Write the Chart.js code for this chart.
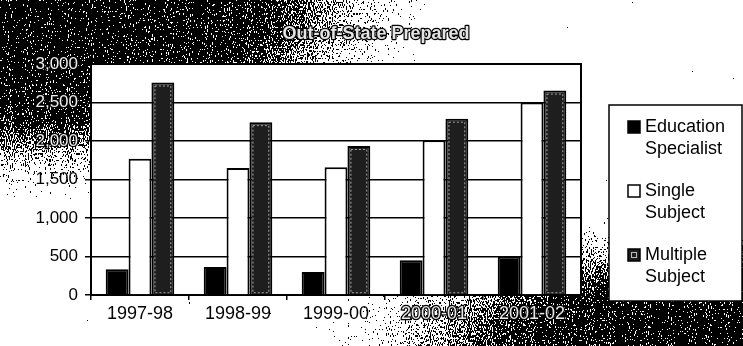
<!DOCTYPE html>
<html>
<head>
<meta charset="utf-8">
<script src="https://cdn.jsdelivr.net/npm/chart.js@4/dist/chart.umd.min.js"></script>
<style>
  html, body { margin: 0; padding: 0; background: #fff; }
  body { width: 743px; height: 346px; overflow: hidden; }
  #wrap { position: relative; width: 743px; height: 346px; }
  /* Shaded backdrop, dithered through the grain filter below */
  #backdrop {
    position: absolute; left: 0; top: 0; width: 743px; height: 346px;
    background-color: #fff;
    background-image:
      radial-gradient(ellipse 480px 220px at 0 0, rgba(0,0,0,0.7) 0%, rgba(0,0,0,0.64) 55%, rgba(0,0,0,0.3) 80%, rgba(0,0,0,0) 100%),
      radial-gradient(ellipse 470px 150px at 100% 100%, rgba(0,0,0,0.7) 0%, rgba(0,0,0,0.62) 50%, rgba(0,0,0,0.28) 80%, rgba(0,0,0,0) 100%);
    filter: url(#grain);
  }
  #chart { position: absolute; left: 0; top: 0; }
</style>
</head>
<body>
<svg width="0" height="0" style="position:absolute">
  <filter id="grain" x="0" y="0" width="100%" height="100%" color-interpolation-filters="sRGB">
    <feTurbulence type="fractalNoise" baseFrequency="0.95 0.45" numOctaves="1" seed="7" result="noise"/>
    <feColorMatrix in="noise" type="matrix" result="grey"
      values="0.33 0.33 0.33 0 0  0.33 0.33 0.33 0 0  0.33 0.33 0.33 0 0  0 0 0 0 1"/>
    <feComposite in="SourceGraphic" in2="grey" operator="arithmetic" k1="0" k2="1" k3="2.2" k4="-1.1" result="mix"/>
    <feComponentTransfer in="mix">
      <feFuncR type="discrete" tableValues="0 1"/>
      <feFuncG type="discrete" tableValues="0 1"/>
      <feFuncB type="discrete" tableValues="0 1"/>
      <feFuncA type="linear" slope="0" intercept="1"/>
    </feComponentTransfer>
  </filter>
</svg>
<div id="wrap">
  <div id="backdrop"></div>
  <canvas id="chart" width="743" height="346"></canvas>
</div>
<script>
// School years on the category axis
const categories = ['1997-98', '1998-99', '1999-00', '2000-01', '2001-02'];

// Credentials issued to out-of-state prepared teachers, by type
const educationSpecialist = [335, 365, 300, 450, 500];
const singleSubject       = [1770, 1650, 1660, 2010, 2500];
const multipleSubject     = [2760, 2245, 1935, 2290, 2655];

// Value axis ticks
const yTickValues = [0, 500, 1000, 1500, 2000, 2500, 3000];

const seriesNames = [['Education', 'Specialist'], ['Single', 'Subject'], ['Multiple', 'Subject']];
const titleText = 'Out-of-State Prepared';

const FONT = '"Liberation Sans", Arial, sans-serif';

// White plot background plus top/right frame
const plotFrame = {
  id: 'plotFrame',
  beforeDraw(chart) {
    const { ctx, chartArea: a } = chart;
    ctx.save();
    ctx.fillStyle = '#fff';
    ctx.fillRect(a.left, a.top, a.right - a.left, a.bottom - a.top);
    ctx.restore();
  },
  afterDraw(chart) {
    const { ctx, chartArea: a } = chart;
    ctx.save();
    ctx.strokeStyle = '#000';
    ctx.lineWidth = 2;
    ctx.beginPath();
    ctx.moveTo(a.left, a.top);
    ctx.lineTo(a.right, a.top);
    ctx.lineTo(a.right, a.bottom);
    ctx.stroke();
    ctx.restore();
  }
};

// Speckled inner edge on the dark Multiple Subject bars
const innerEdge = {
  id: 'innerEdge',
  afterDatasetsDraw(chart) {
    const meta = chart.getDatasetMeta(2);
    const ctx = chart.ctx;
    ctx.save();
    ctx.strokeStyle = '#a8a8a8';
    ctx.lineWidth = 1;
    ctx.setLineDash([2, 2]);
    meta.data.forEach(bar => {
      const l = bar.x - bar.width / 2 + 3.5;
      const r = bar.x + bar.width / 2 - 3.5;
      ctx.strokeRect(l, bar.y + 3.5, r - l, bar.base - bar.y - 5);
    });
    ctx.restore();
  }
};

// Title with outlined lettering
const outlinedTitle = {
  id: 'outlinedTitle',
  afterDraw(chart) {
    const ctx = chart.ctx;
    ctx.save();
    ctx.font = 'bold 18px ' + FONT;
    ctx.textAlign = 'center';
    ctx.textBaseline = 'middle';
    ctx.lineJoin = 'round';
    ctx.strokeStyle = '#000';
    ctx.lineWidth = 2.5;
    ctx.strokeText(titleText, 376, 34);
    ctx.fillStyle = '#e4e4e4';
    ctx.fillText(titleText, 376, 34);
    ctx.restore();
  }
};

// Boxed legend with two-line labels
const boxLegend = {
  id: 'boxLegend',
  afterDraw(chart) {
    const ctx = chart.ctx;
    const box = { l: 609, t: 105, r: 742, b: 301 };
    ctx.save();
    ctx.fillStyle = '#fff';
    ctx.fillRect(box.l, box.t, box.r - box.l, box.b - box.t);
    ctx.strokeStyle = '#000';
    ctx.lineWidth = 1.5;
    ctx.strokeRect(box.l, box.t, box.r - box.l, box.b - box.t);
    ctx.font = '18px ' + FONT;
    ctx.textBaseline = 'middle';
    ctx.textAlign = 'left';
    chart.data.datasets.forEach((ds, i) => {
      const y0 = 127 + i * 64;
      const mx = 628, my = y0 - 6, ms = 12;
      ctx.fillStyle = ds.backgroundColor;
      ctx.fillRect(mx, my, ms, ms);
      ctx.strokeStyle = '#000';
      ctx.lineWidth = 1.5;
      ctx.setLineDash([]);
      ctx.strokeRect(mx, my, ms, ms);
      if (i === 2) {
        ctx.strokeStyle = '#bbb';
        ctx.lineWidth = 1;
        ctx.strokeRect(mx + 3.5, my + 3.5, ms - 7, ms - 7);
      }
      ctx.fillStyle = '#000';
      seriesNames[i].forEach((line, k) => ctx.fillText(line, 645, y0 + k * 22));
    });
    ctx.restore();
  }
};

new Chart(document.getElementById('chart'), {
  type: 'bar',
  data: {
    labels: categories,
    datasets: [
      { label: 'Education Specialist', data: educationSpecialist, backgroundColor: '#000', borderColor: '#000', borderWidth: 2 },
      { label: 'Single Subject', data: singleSubject, backgroundColor: '#fff', borderColor: '#000', borderWidth: 2 },
      { label: 'Multiple Subject', data: multipleSubject, backgroundColor: '#1e1e1e', borderColor: '#000', borderWidth: 2 }
    ]
  },
  options: {
    responsive: false,
    animation: false,
    layout: { padding: { top: 64, right: 162, bottom: 0, left: 0 } },
    datasets: { bar: { categoryPercentage: 0.7, barPercentage: 1.0, borderSkipped: 'start' } },
    plugins: { legend: { display: false }, title: { display: false }, tooltip: { enabled: false } },
    scales: {
      x: {
        grid: { display: true, drawOnChartArea: false, drawTicks: true, tickLength: 5, color: '#000', lineWidth: 1.5 },
        border: { display: true, color: '#000', width: 2 },
        ticks: {
          font: { family: FONT, size: 18 },
          padding: 3,
          color: c => c.index >= 3 ? '#e8e8e8' : '#000',
          textStrokeColor: '#000',
          textStrokeWidth: c => c.index >= 3 ? 2.5 : 0
        },
        afterFit(scale) { scale.height = 51; }
      },
      y: {
        min: 0,
        max: 3000,
        afterBuildTicks(scale) { scale.ticks = yTickValues.map(v => ({ value: v })); },
        grid: { color: '#000', lineWidth: 1.5, tickLength: 6, drawTicks: true },
        border: { display: true, color: '#000', width: 2 },
        ticks: {
          font: { family: FONT, size: 17 },
          padding: 7,
          callback: v => v.toLocaleString('en-US'),
          color: c => c.tick && c.tick.value >= 2000 ? '#eeeeee' : '#000',
          textStrokeColor: '#000',
          textStrokeWidth: c => c.tick && c.tick.value >= 2000 ? 2.5 : 0
        },
        afterFit(scale) { scale.width = 91; }
      }
    }
  },
  plugins: [plotFrame, innerEdge, outlinedTitle, boxLegend]
});
</script>
</body>
</html>
